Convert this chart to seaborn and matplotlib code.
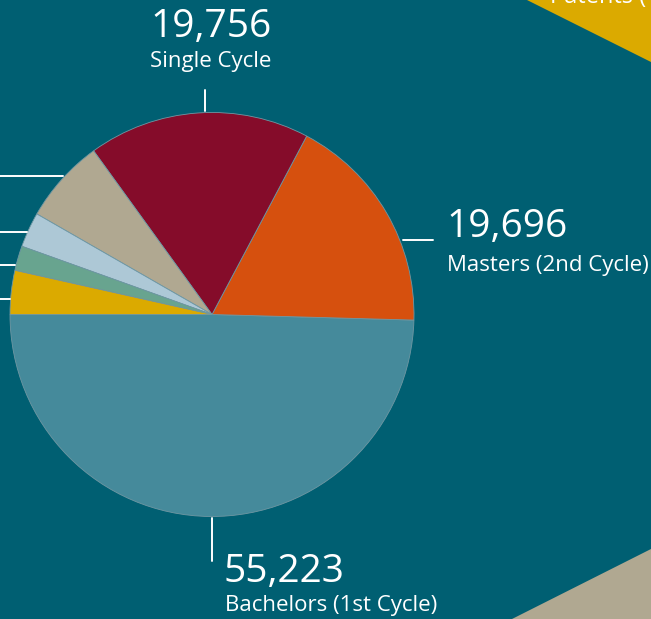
import numpy as np
import pandas as pd
import matplotlib.pyplot as plt
import seaborn as sns

# ### Data
labels = ["Bachelors (1st Cycle)", "Masters (2nd Cycle)", "Single Cycle",
          "Other A", "Other B", "Other C", "Other D"]
values = [55223, 19696, 19756, 7510, 3130, 2200, 3910]
colors = ["#458a9b", "#d6500e", "#850c2a", "#b0a891", "#adc8d6", "#68a48f", "#dbaa00"]

bg = "#005f72"

# ### Style
sns.set_style("white")
plt.rcParams['font.family'] = ['Open Sans', 'DejaVu Sans']

fig = plt.figure(figsize=(6.51, 6.19), dpi=100)
fig.patch.set_facecolor(bg)
ax = fig.add_axes([0, 0, 1, 1])
ax.set_facecolor(bg)

H = 619  # convert pixel y (top-down) to data y

# decorative triangles from the rest of the infographic
ax.fill([527, 651, 651], [H - 0, H - 62, H - 0], color="#dbaa00", lw=0)
ax.fill([512, 651, 651], [H - 619, H - 549, H - 619], color="#b0a891", lw=0)
ax.text(550, H - 2.7, "Patents (1", color="white", fontsize=17, va="baseline", ha="left")

# ### Pie
ax.pie(values, colors=colors, startangle=180, counterclock=True,
       center=(212, H - 314.5), radius=202, frame=True,
       wedgeprops=dict(edgecolor="#6f97a3", linewidth=0.6))
ax.set_xlim(0, 651)
ax.set_ylim(0, 619)
ax.set_aspect("equal")
ax.axis("off")

# leader lines
lw = 1.4
ax.plot([205, 205], [H - 90, H - 111], color="white", lw=lw)
ax.plot([403, 433], [H - 240, H - 240], color="white", lw=lw)
ax.plot([212, 212], [H - 518, H - 561], color="white", lw=lw)
for y, x1 in [(176, 63), (232, 27), (265, 15), (299, 10)]:
    ax.plot([0, x1], [H - y, H - y], color="white", lw=lw)

# labels
big = 28
small = 16
ax.text(211, H - 27, f"{values[2]:,}", color="white", fontsize=big, ha="center", va="center")
ax.text(211, H - 62, labels[2], color="white", fontsize=small, ha="center", va="center")
ax.text(446, H - 227, f"{values[1]:,}", color="white", fontsize=big, ha="left", va="center")
ax.text(447, H - 266, labels[1], color="white", fontsize=small, ha="left", va="center")
ax.text(224, H - 572, f"{values[0]:,}", color="white", fontsize=big, ha="left", va="center")
ax.text(225, H - 606, labels[0], color="white", fontsize=small, ha="left", va="center")

fig.savefig("out.png", dpi=100, facecolor=bg)
